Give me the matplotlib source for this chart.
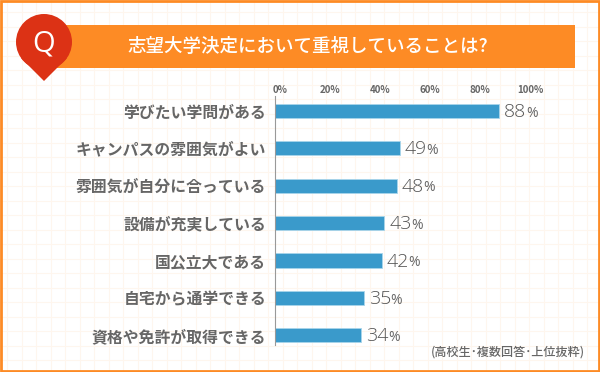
import matplotlib
matplotlib.use('Agg')
import matplotlib.pyplot as plt
from matplotlib.patches import Rectangle, Polygon, Circle
from matplotlib.transforms import ScaledTranslation
import numpy as np

plt.rcParams['font.family'] = ['Noto Sans CJK JP', 'DejaVu Sans']

title = '志望大学決定において重視していることは?'
note = '(高校生･複数回答･上位抜粋)'
categories = ['学びたい学問がある', 'キャンパスの雰囲気がよい', '雰囲気が自分に合っている',
              '設備が充実している', '国公立大である', '自宅から通学できる', '資格や免許が取得できる']
values = [88, 49, 48, 43, 42, 35, 34]
ticks = [0, 20, 40, 60, 80, 100]

orange = '#fd8b25'
gray = '#666666'

fig = plt.figure(figsize=(6, 3.72), dpi=100)

# background in pixel coords
bg = fig.add_axes([0, 0, 1, 1])
bg.set_xlim(0, 600)
bg.set_ylim(372, 0)
bg.axis('off')
for x in np.arange(7, 600, 14.5):
    bg.plot([x, x], [0, 372], color='#fef6ee', lw=0.8, zorder=0)
for y in np.arange(12, 372, 14.5):
    bg.plot([0, 600], [y, y], color='#fef6ee', lw=0.8, zorder=0)
bg.add_patch(Rectangle((1, 1), 597.5, 369.5, fill=False, ec=orange, lw=2))

# title band and pin
bg.add_patch(Rectangle((45, 25), 530, 43, color='#fd8b25', lw=0))
bg.add_patch(Polygon([(21, 58), (44, 81), (67, 58)], color='#dc3215', lw=0))
bg.add_patch(Circle((44, 42), 28, color='#dc3215', lw=0))
bg.text(44, 44, 'Q', color='white', fontsize=21, family='Open Sans', ha='center', va='center')
bg.text(308, 46, title, color='white', fontsize=13.3, fontweight='medium', ha='center', va='center')
bg.text(508, 352, note, color=gray, fontsize=8.7, fontweight='medium', ha='center', va='center')

# chart
ax = fig.add_axes([274.5 / 600, 1 - 345 / 372, 255.5 / 600, 249 / 372])
ax.patch.set_alpha(0)
ypos = np.arange(len(values))
ax.barh(ypos, values, height=0.38, color='#3a9acb', edgecolor='#a9d5ea', linewidth=0.6)
ax.set_xlim(0, 100)
ax.set_ylim(6.26, -0.4)
for s in ['top', 'right', 'bottom']:
    ax.spines[s].set_visible(False)
ax.spines['left'].set_color('#999999')
ax.spines['left'].set_linewidth(0.8)
ax.xaxis.tick_top()
ax.set_xticks(ticks)
ax.set_xticklabels([f'{t}%' for t in ticks], fontsize=7, fontweight='bold', color=gray)
ax.tick_params(axis='x', length=0, pad=1)
# reference labels sit slightly right of their ticks, more so at the low end
for t, lab in zip(ticks, ax.get_xticklabels()):
    lab.set_transform(lab.get_transform() + ScaledTranslation(5.5 * (1 - t / 100) / 100, 0, fig.dpi_scale_trans))
ax.set_yticks(ypos)
ax.set_yticklabels(categories, fontsize=11.4, fontweight='bold', color=gray)
ax.tick_params(axis='y', length=0, pad=6)
for y, v in zip(ypos, values):
    t = ax.annotate(f'{v}', (v, y), xytext=(3.5, -0.8), textcoords='offset points',
                    fontsize=14, color='#555555', family='Open Sans', fontweight='light', va='center', ha='left')
    ax.annotate('%', (1, 0.5), xycoords=t, xytext=(-0.5, -0.8), textcoords='offset points',
                fontsize=10, color=gray, family='Open Sans', va='center', ha='left')

fig.savefig('out.png', dpi=100)
